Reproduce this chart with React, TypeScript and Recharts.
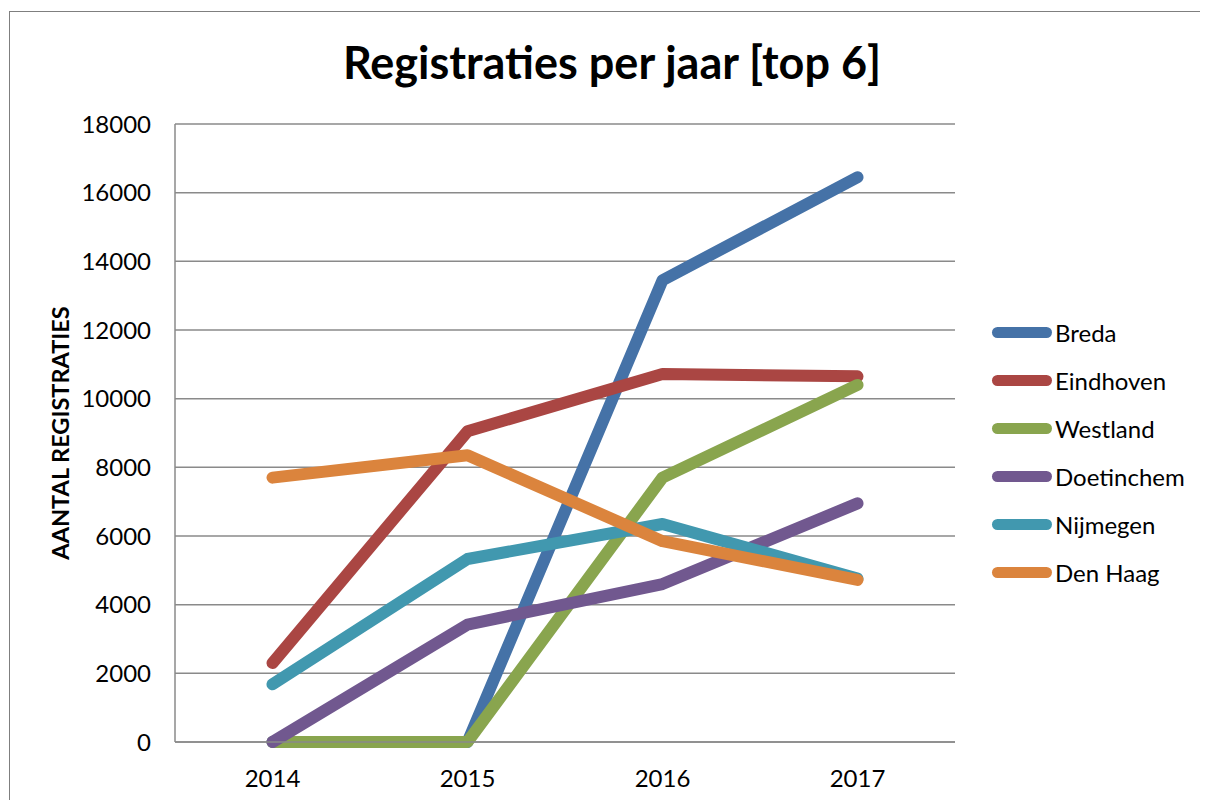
import React from 'react';
import { LineChart, Line, XAxis, YAxis, CartesianGrid, Label } from 'recharts';

const years = ['2014', '2015', '2016', '2017'];
const breda = [0, 0, 13450, 16450];
const eindhoven = [2300, 9050, 10720, 10650];
const westland = [0, 0, 7700, 10400];
const doetinchem = [0, 3420, 4600, 6950];
const nijmegen = [1680, 5330, 6350, 4760];
const denHaag = [7700, 8350, 5850, 4720];
const yTicks = [0, 2000, 4000, 6000, 8000, 10000, 12000, 14000, 16000, 18000];

const seriesDefs = [
  { key: 'Breda', values: breda, color: '#4572A7' },
  { key: 'Eindhoven', values: eindhoven, color: '#AA4643' },
  { key: 'Westland', values: westland, color: '#89A54E' },
  { key: 'Doetinchem', values: doetinchem, color: '#71588F' },
  { key: 'Nijmegen', values: nijmegen, color: '#4198AF' },
  { key: 'Den Haag', values: denHaag, color: '#DB843D' },
];

const data = years.map((y, i) => {
  const row: Record<string, any> = { year: y };
  seriesDefs.forEach((s) => {
    row[s.key] = s.values[i];
  });
  return row;
});

const FONT = 'Lato, "Open Sans", sans-serif';
const GRID = '#8a8a8a';

export default function App() {
  return (
    <div style={{ position: 'relative', width: 1200, height: 792, overflow: 'hidden', background: '#fff' }}>
      <div
        style={{
          position: 'absolute',
          left: 1,
          top: 3,
          width: 1300,
          height: 900,
          border: '1px solid #7f7f7f',
        }}
      />
      <div
        style={{
          position: 'absolute',
          left: 0,
          width: 1208,
          top: 32,
          textAlign: 'center',
          fontFamily: FONT,
          fontWeight: 700,
          fontSize: 45,
          lineHeight: '45px',
          color: '#000',
        }}
      >
        Registraties per jaar [top 6]
      </div>
      <div style={{ position: 'absolute', left: 0, top: 0 }}>
        <LineChart
          width={1200}
          height={792}
          data={data}
          margin={{ top: 116, right: 253, bottom: 18, left: 0 }}
        >
          <CartesianGrid vertical={false} stroke={GRID} strokeWidth={1.5} />
          <XAxis
            dataKey="year"
            scale="band"
            tickLine={false}
            tickSize={0}
            tickMargin={28}
            height={40}
            axisLine={{ stroke: GRID, strokeWidth: 1.5 }}
            tick={{ fill: '#000', fontSize: 24, fontFamily: FONT }}
          />
          <YAxis
            width={167}
            domain={[0, 18000]}
            ticks={yTicks}
            interval={0}
            tickLine={false}
            tickSize={0}
            tickMargin={24}
            axisLine={{ stroke: GRID, strokeWidth: 1.5 }}
            tick={{ fill: '#000', fontSize: 24, fontFamily: FONT }}
          >
            <Label
              content={(props: any) => {
                const vb = props.viewBox || { y: 116, height: 618 };
                const cx = 52;
                const cy = vb.y + vb.height / 2;
                return (
                  <text
                    x={cx}
                    y={cy}
                    transform={`rotate(-90, ${cx}, ${cy})`}
                    textAnchor="middle"
                    dominantBaseline="central"
                    fontFamily={FONT}
                    fontWeight={700}
                    fontSize={23.5}
                    fill="#000"
                  >
                    AANTAL REGISTRATIES
                  </text>
                );
              }}
            />
          </YAxis>
          {seriesDefs.map((s) => (
            <Line
              key={s.key}
              type="linear"
              dataKey={s.key}
              name={s.key}
              stroke={s.color}
              strokeWidth={12}
              strokeLinecap="round"
              strokeLinejoin="round"
              dot={false}
              activeDot={false}
              isAnimationActive={false}
            />
          ))}
        </LineChart>
      </div>
      <div style={{ position: 'absolute', left: 984, top: 300, fontFamily: FONT }}>
        {seriesDefs.map((s) => (
          <div key={s.key} style={{ display: 'flex', alignItems: 'center', height: 48 }}>
            <div style={{ width: 60, height: 11, borderRadius: 6, background: s.color, marginRight: 3 }} />
            <span style={{ fontSize: 24, color: '#000' }}>{s.key}</span>
          </div>
        ))}
      </div>
    </div>
  );
}
